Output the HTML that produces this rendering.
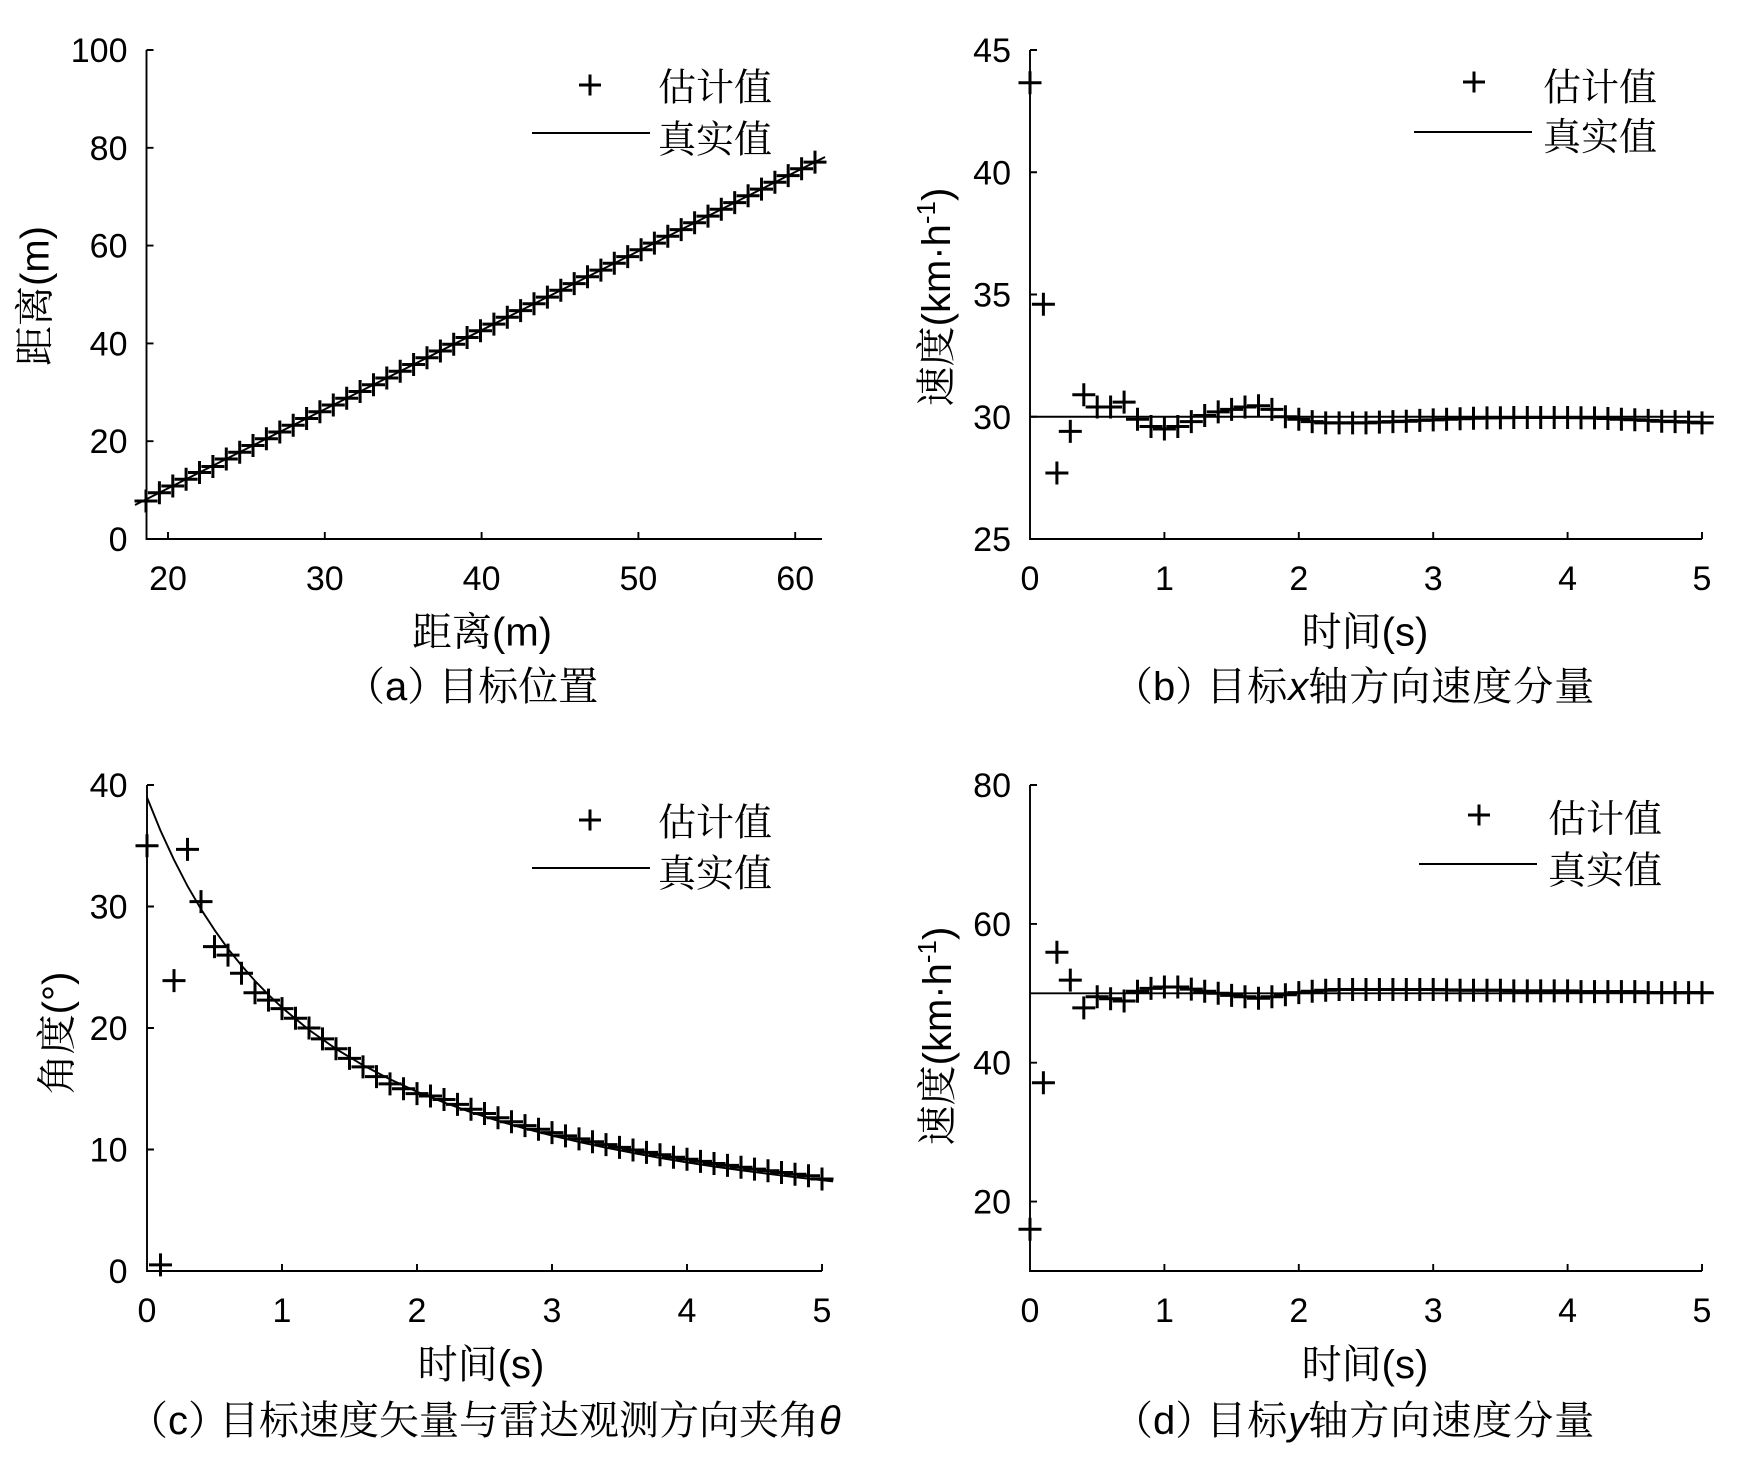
<!DOCTYPE html>
<html><head><meta charset="utf-8"><style>
html,body{margin:0;padding:0;background:#fff;}
svg{display:block;}
text{fill:#000;}
.t{font-family:"Liberation Sans",sans-serif;font-size:34px;}
.c{font-family:"Liberation Sans","Noto Serif CJK SC",serif;font-size:40px;}
.l{font-family:"Liberation Sans","Noto Serif CJK SC",serif;font-size:38px;}
</style></head><body>
<svg width="1748" height="1458" viewBox="0 0 1748 1458" xmlns="http://www.w3.org/2000/svg">
<defs>
<marker id="p" markerUnits="userSpaceOnUse" markerWidth="30" markerHeight="30" refX="15" refY="15" overflow="visible">
<path d="M3.5 15H26.5M15 3.5V26.5" stroke="#000" stroke-width="3" fill="none"/>
</marker>
</defs>
<rect width="1748" height="1458" fill="#fff"/>

<!-- Axes -->
<g stroke="#000" stroke-width="1.9" fill="none">
<path d="M146.5 50V539H822"/>
<path d="M146.5 441.2h7M146.5 343.4h7M146.5 245.6h7M146.5 147.8h7M146.5 50h7M168 539v-7M324.8 539v-7M481.6 539v-7M638.4 539v-7M795.2 539v-7"/>
<path d="M1030 50V539H1702"/>
<path d="M1030 50h7M1030 172.25h7M1030 294.5h7M1030 416.75h7M1164.4 539v-7M1298.8 539v-7M1433.2 539v-7M1567.6 539v-7M1702 539v-7"/>
<path d="M147 785V1271H822"/>
<path d="M147 785h7M147 906.5h7M147 1028h7M147 1149.5h7M282 1271v-7M417 1271v-7M552 1271v-7M687 1271v-7M822 1271v-7"/>
<path d="M1030 785V1271H1702"/>
<path d="M1030 785h7M1030 923.9h7M1030 1062.7h7M1030 1201.6h7M1164.4 1271v-7M1298.8 1271v-7M1433.2 1271v-7M1567.6 1271v-7M1702 1271v-7"/>
</g>

<!-- Tick labels -->
<g class="t" text-anchor="end">
<text x="127.5" y="551">0</text><text x="127.5" y="453.2">20</text><text x="127.5" y="355.4">40</text><text x="127.5" y="257.6">60</text><text x="127.5" y="159.8">80</text><text x="127.5" y="62">100</text>
<text x="1011" y="62">45</text><text x="1011" y="184.25">40</text><text x="1011" y="306.5">35</text><text x="1011" y="428.75">30</text><text x="1011" y="551">25</text>
<text x="127.5" y="797">40</text><text x="127.5" y="918.5">30</text><text x="127.5" y="1040">20</text><text x="127.5" y="1161.5">10</text><text x="127.5" y="1283">0</text>
<text x="1011" y="797">80</text><text x="1011" y="935.9">60</text><text x="1011" y="1074.7">40</text><text x="1011" y="1213.6">20</text>
</g>
<g class="t" text-anchor="middle">
<text x="168" y="590">20</text><text x="324.8" y="590">30</text><text x="481.6" y="590">40</text><text x="638.4" y="590">50</text><text x="795.2" y="590">60</text>
<text x="1030" y="590">0</text><text x="1164.4" y="590">1</text><text x="1298.8" y="590">2</text><text x="1433.2" y="590">3</text><text x="1567.6" y="590">4</text><text x="1702" y="590">5</text>
<text x="147" y="1322">0</text><text x="282" y="1322">1</text><text x="417" y="1322">2</text><text x="552" y="1322">3</text><text x="687" y="1322">4</text><text x="822" y="1322">5</text>
<text x="1030" y="1322">0</text><text x="1164.4" y="1322">1</text><text x="1298.8" y="1322">2</text><text x="1433.2" y="1322">3</text><text x="1567.6" y="1322">4</text><text x="1702" y="1322">5</text>
</g>

<!-- Axis labels -->
<g class="c" text-anchor="middle">
<text x="482" y="645.6">距离(m)</text>
<text x="1365" y="645.6">时间(s)</text>
<text x="481" y="1378">时间(s)</text>
<text x="1365" y="1378">时间(s)</text>
<text transform="translate(48.6,296) rotate(-90)">距离(m)</text>
<text transform="translate(950,297) rotate(-90)">速度(km·h<tspan font-size="26" dy="-15">-1</tspan><tspan dy="15">)</tspan></text>
<text transform="translate(70.6,1033) rotate(-90)">角度(°)</text>
<text transform="translate(951,1036) rotate(-90)">速度(km·h<tspan font-size="26" dy="-15">-1</tspan><tspan dy="15">)</tspan></text>
</g>

<!-- Titles -->
<g class="c">
<text x="345" y="700">（a）<tspan dx="-9">目标位置</tspan></text>
<text x="1113" y="700">（b）<tspan dx="-9" letter-spacing="1">目标</tspan><tspan font-style="italic">x</tspan><tspan letter-spacing="1">轴方向速度分量</tspan></text>
<text x="128" y="1434">（c）<tspan dx="-9">目标速度矢量与雷达观测方向夹角</tspan><tspan font-style="italic">θ</tspan></text>
<text x="1113" y="1434">（d）<tspan dx="-9" letter-spacing="1">目标</tspan><tspan font-style="italic">y</tspan><tspan letter-spacing="1">轴方向速度分量</tspan></text>
</g>

<!-- Legends -->
<g class="l">
<text x="658" y="100.5">估计值</text><text x="658" y="152.5">真实值</text>
<text x="1543" y="100.5">估计值</text><text x="1543" y="150">真实值</text>
<text x="658" y="835.5">估计值</text><text x="658" y="886.5">真实值</text>
<text x="1548" y="832">估计值</text><text x="1548" y="883.5">真实值</text>
</g>
<g stroke="#000" stroke-width="2" fill="none">
<path d="M532 133H650"/>
<path d="M1414 132H1532"/>
<path d="M532 868H650"/>
<path d="M1419 864H1537"/>
</g>
<g stroke="#000" stroke-width="3" fill="none">
<path d="M579 85H601M590 74.5V95.5"/>
<path d="M1463 82H1485M1474 71.5V92.5"/>
<path d="M579 820H601M590 809.5V830.5"/>
<path d="M1468 815H1490M1479 804.5V825.5"/>
</g>

<!-- True lines -->
<g stroke="#000" stroke-width="1.9" fill="none" stroke-linejoin="round">
<path d="M135 505L825 157"/>
<path d="M1030 416.75H1714"/>
<path d="M1030 993.3H1714"/>
<polyline points="147,797.4 160.5,830.6 174,859.8 187.5,886 201,909.2 214.5,929.9 228,948.8 241.5,965.5 255,980.9 268.5,994.8 282,1007.6 309,1029.9 336,1048.9 363,1065.2 390,1079.3 417,1091.7 444,1102.5 471,1112.2 498,1120.8 525,1128.6 552,1135.6 579,1142 606,1147.7 633,1153 660,1157.9 687,1162.4 714,1166.5 741,1170.3 768,1173.8 795,1177.2 822,1180.2 833,1181.4"/>
</g>

<!-- Estimates -->
<g fill="none" stroke="none" marker-start="url(#p)" marker-mid="url(#p)" marker-end="url(#p)">
<polyline points="146,501 159.4,492.8 172.8,486 186.1,479.3 199.5,472.5 212.9,466.5 226.3,459 239.7,452.3 253,445.5 266.4,438.8 279.8,432 293.2,425.3 306.6,418.5 319.9,411.8 333.3,405 346.7,398.3 360.1,391.5 373.5,384.8 386.8,378 400.2,371.3 413.6,364.5 427,357.8 440.4,351 453.7,344.3 467.1,337.5 480.5,330.8 493.9,324.1 507.3,317.3 520.6,310.6 534,303.8 547.4,297.1 560.8,290.3 574.2,283.6 587.5,276.8 600.9,270.1 614.3,263.3 627.7,256.6 641.1,249.8 654.4,243.1 667.8,236.3 681.2,229.6 694.6,222.8 708,216.1 721.3,209.3 734.7,202.6 748.1,195.8 761.5,189.1 774.9,182.3 788.2,175.6 801.6,168.8 815,162.1"/>
<polyline points="1030,82.8 1043.4,304.3 1056.9,473 1070.3,431.4 1083.8,394.7 1097.2,407 1110.6,407 1124.1,402.1 1137.5,419.2 1151,426.5 1164.4,429 1177.8,426.5 1191.3,421.6 1204.7,415.5 1218.2,411.9 1231.6,409.4 1245,407 1258.5,405.7 1271.9,409.4 1285.4,416.8 1298.8,419.2 1312.2,421.6 1325.7,422.9 1339.1,422.9 1352.6,422.9 1366,422.9 1379.4,422.1 1392.9,421.6 1406.3,421.2 1419.8,420.4 1433.2,419.9 1446.6,419.2 1460.1,418.7 1473.5,418.2 1487,417.9 1500.4,417.7 1513.8,417.5 1527.3,417.5 1540.7,417.5 1554.2,417.5 1567.6,417.5 1581,417.7 1594.5,417.9 1607.9,418.5 1621.4,419.2 1634.8,419.7 1648.2,420.4 1661.7,421.2 1675.1,421.6 1688.6,422.1 1702,422.9"/>
<polyline points="147,845.7 160.5,1264.9 174,980.6 187.5,849.4 201,901.6 214.5,946.6 228,955.1 241.5,973.3 255,992.8 268.5,1000.1 282,1008.6 295.5,1018.3 309,1028 322.5,1038.9 336,1048.7 349.5,1058.4 363,1066.9 376.5,1076.6 390,1083.9 403.5,1088.8 417,1093.6 430.5,1096 444,1099.5 457.5,1104.4 471,1109.2 484.5,1113.5 498,1117.8 511.5,1121.8 525,1125.6 538.5,1129.2 552,1132.6 565.5,1135.9 579,1138.9 592.5,1141.8 606,1144.6 619.5,1147.4 633,1150 646.5,1152.4 660,1154.8 673.5,1157.2 687,1159.3 700.5,1161.4 714,1163.5 727.5,1165.4 741,1167.2 754.5,1169.1 768,1170.8 781.5,1172.5 795,1174.2 808.5,1175.7 822,1179"/>
<polyline points="1030,1229.3 1043.4,1082.8 1056.9,952.3 1070.3,980.1 1083.8,1007.9 1097.2,996.8 1110.6,998.8 1124.1,1001 1137.5,991.2 1151,988.4 1164.4,987 1177.8,987 1191.3,989.1 1204.7,991.2 1218.2,993.3 1231.6,995.4 1245,996.8 1258.5,998.2 1271.9,996.8 1285.4,994.7 1298.8,992.6 1312.2,991.2 1325.7,990.2 1339.1,989.5 1352.6,989.5 1366,989.5 1379.4,989.5 1392.9,989.5 1406.3,989.5 1419.8,989.5 1433.2,989.5 1446.6,989.9 1460.1,990.2 1473.5,990.2 1487,990.2 1500.4,990.2 1513.8,990.9 1527.3,990.9 1540.7,990.9 1554.2,990.9 1567.6,990.9 1581,991.6 1594.5,991.6 1607.9,991.6 1621.4,991.6 1634.8,991.6 1648.2,992.6 1661.7,992.6 1675.1,992.6 1688.6,992.6 1702,992.6"/>
</g>
</svg>
</body></html>
